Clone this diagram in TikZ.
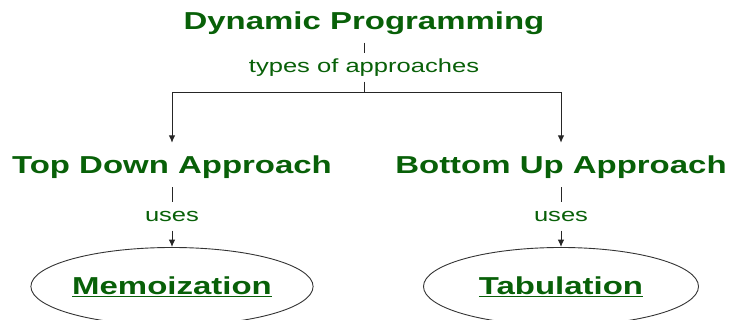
\documentclass[tikz,border=0pt]{standalone}
\usepackage{fontspec}
\setmainfont{Liberation Sans}[FakeStretch=1.345]
\usetikzlibrary{positioning,shapes.geometric,arrows.meta}
\definecolor{dpgreen}{RGB}{8,96,8}
\tikzset{
  head/.style={text=dpgreen, font=\fontsize{24.5}{28}\selectfont\bfseries, text height=23pt, text depth=5pt, inner xsep=0pt, inner ysep=8pt},
  lbl/.style={text=dpgreen, font=\fontsize{19}{22}\selectfont, text height=14pt, text depth=4pt, inner xsep=2pt, inner ysep=5pt},
  oval/.style={ellipse, draw=black!80, line width=0.9pt, minimum width=275pt, minimum height=78pt, inner sep=0pt, text=dpgreen, font=\fontsize{24.5}{28}\selectfont\bfseries},
  link/.style={draw=black!85, line width=1pt},
  arrow/.style={link, -{Latex[length=7.5pt,width=6.5pt]}},
}
\begin{document}
\begin{tikzpicture}[x=1pt, y=1pt]
    \useasboundingbox (0,0) rectangle (730,320);
    \clip (0,0) rectangle (730,320);
    \node [head, anchor=base] (dp) at (364, 290.5) {Dynamic Programming};
    \node [lbl, below=43pt of dp.base, anchor=base] (types) {types of approaches};
    \coordinate [below=11pt of types.south] (split);
    \node [head, below=101.5pt of types.base, anchor=base, xshift=-192pt] (td) {Top Down Approach};
    \node [head, below=101.5pt of types.base, anchor=base, xshift=197pt] (bu) {Bottom Up Approach};
    \node [lbl, below=47.5pt of td.base, anchor=base] (uses1) {uses};
    \node [lbl, below=47.5pt of bu.base, anchor=base] (uses2) {uses};
    \node [oval, below=65pt of uses1.base, anchor=center] (memo) {\underline{Memoization}};
    \node [oval, below=65pt of uses2.base, anchor=center] (tab) {\underline{Tabulation}};

    %\node at (split) {};
    \draw [link] (dp) -- (types);
    \draw [link] (types) -- (split);
    \draw [arrow] (split) -| (td);
    \draw [arrow] (split) -| (bu);
    \draw [link] (td) -- (uses1);
    \draw [arrow] (uses1) -- (memo);
    \draw [link] (bu) -- (uses2);
    \draw [arrow] (uses2) -- (tab);
\end{tikzpicture}
\end{document}
